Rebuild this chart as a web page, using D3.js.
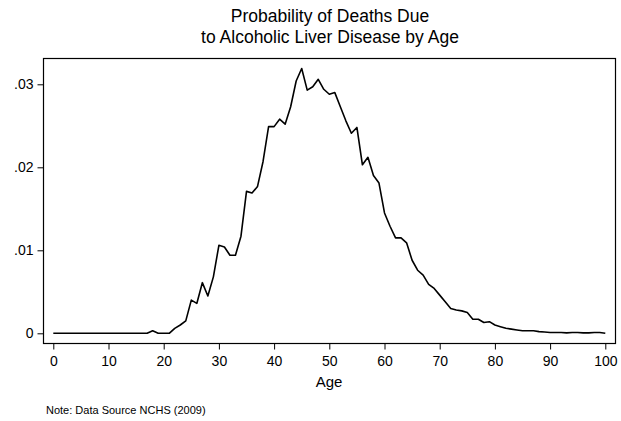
<!DOCTYPE html>
<html lang="en">
<head>
	<meta charset="UTF-8">
	<title>Alcoholic liver disease deaths by age</title>
	<script src="https://cdn.jsdelivr.net/npm/d3@7"></script>
	<style>
		body { margin: 0; background: #fff; }
		svg { font-family: "Liberation Sans", Arial, sans-serif; }
	</style>
</head>
<body>
<div id="chart"></div>
<script>
// ages 0..100 and probability of death at each age
var ages = d3.range(0, 101);
var probs = [
	0, 0, 0, 0, 0, 0, 0, 0, 0, 0,                                   // 0-9
	0, 0, 0, 0, 0, 0, 0, 0, 0.0003, 0,                              // 10-19
	0, 0, 0.0006, 0.001, 0.0015, 0.0040, 0.0036, 0.0061, 0.0045, 0.0068, // 20-29
	0.0106, 0.0104, 0.0094, 0.0094, 0.0117, 0.0171, 0.0169, 0.0177, 0.0207, 0.0249, // 30-39
	0.0249, 0.0258, 0.0252, 0.0273, 0.0304, 0.0319, 0.0293, 0.0297, 0.0306, 0.0294, // 40-49
	0.0288, 0.0290, 0.0273, 0.0256, 0.0241, 0.0248, 0.0203, 0.0212, 0.0190, 0.0181, // 50-59
	0.0145, 0.0129, 0.0115, 0.0115, 0.0109, 0.0088, 0.0076, 0.0070, 0.0059, 0.0054, // 60-69
	0.0046, 0.0038, 0.0030, 0.0028, 0.0027, 0.0025, 0.0017, 0.0017, 0.0013, 0.0014, // 70-79
	0.0010, 0.0008, 0.0006, 0.0005, 0.0004, 0.0003, 0.0003, 0.0003, 0.0002, 0.00015, // 80-89
	0.0001, 0.0001, 0.0001, 0.00005, 0.0001, 0.0001, 0.00005, 0.00005, 0.0001, 0.0001, // 90-99
	0                                                               // 100
];
var xTicks = [0, 10, 20, 30, 40, 50, 60, 70, 80, 90, 100];
var yTicks = [0, 0.01, 0.02, 0.03];
var yTickLabels = ["0", ".01", ".02", ".03"];

var W = 621, H = 421;
var svg = d3.select("#chart").append("svg")
	.attr("width", W).attr("height", H);

// frame of the plot region
var box = {left: 43.5, top: 58.5, right: 615.5, bottom: 343.5};

var x = d3.scaleLinear().domain([0, 100]).range([53.3, 605.3]);
var y = d3.scaleLinear().domain([0, 0.03]).range([333.3, 84.3]);

// title
svg.append("text")
	.attr("x", 330).attr("y", 22)
	.attr("text-anchor", "middle")
	.style("font-size", "17.5px")
	.text("Probability of Deaths Due");
svg.append("text")
	.attr("x", 330).attr("y", 43)
	.attr("text-anchor", "middle")
	.style("font-size", "17.5px")
	.text("to Alcoholic Liver Disease by Age");

svg.append("rect")
	.attr("x", box.left).attr("y", box.top)
	.attr("width", box.right - box.left)
	.attr("height", box.bottom - box.top)
	.attr("fill", "none")
	.attr("stroke", "#000")
	.attr("stroke-width", 1.2);

// x axis
var xAxis = svg.append("g")
	.attr("transform", "translate(0," + box.bottom + ")")
	.call(d3.axisBottom(x).tickValues(xTicks).tickSize(6).tickPadding(7).tickSizeOuter(0));
xAxis.select(".domain").remove();
xAxis.selectAll("text").style("font-size", "14px").attr("fill", "#000");

// y axis
var yAxis = svg.append("g")
	.attr("transform", "translate(" + box.left + ",0)")
	.call(d3.axisLeft(y).tickValues(yTicks)
		.tickFormat(function(d, i){ return yTickLabels[i]; })
		.tickSize(6).tickPadding(4).tickSizeOuter(0));
yAxis.select(".domain").remove();
yAxis.selectAll("text").style("font-size", "14px").attr("fill", "#000");

// axis title
svg.append("text")
	.attr("x", 329).attr("y", 387)
	.attr("text-anchor", "middle")
	.style("font-size", "15px")
	.text("Age");

// note
svg.append("text")
	.attr("x", 46).attr("y", 414)
	.style("font-size", "11px")
	.text("Note: Data Source NCHS (2009)");

// the line
var line = d3.line()
	.x(function(d, i){ return x(ages[i]); })
	.y(function(d){ return y(d); });

svg.append("path")
	.datum(probs)
	.attr("d", line)
	.attr("fill", "none")
	.attr("stroke", "#000")
	.attr("stroke-width", 1.6)
	.attr("stroke-linejoin", "round");
</script>
</body>
</html>
